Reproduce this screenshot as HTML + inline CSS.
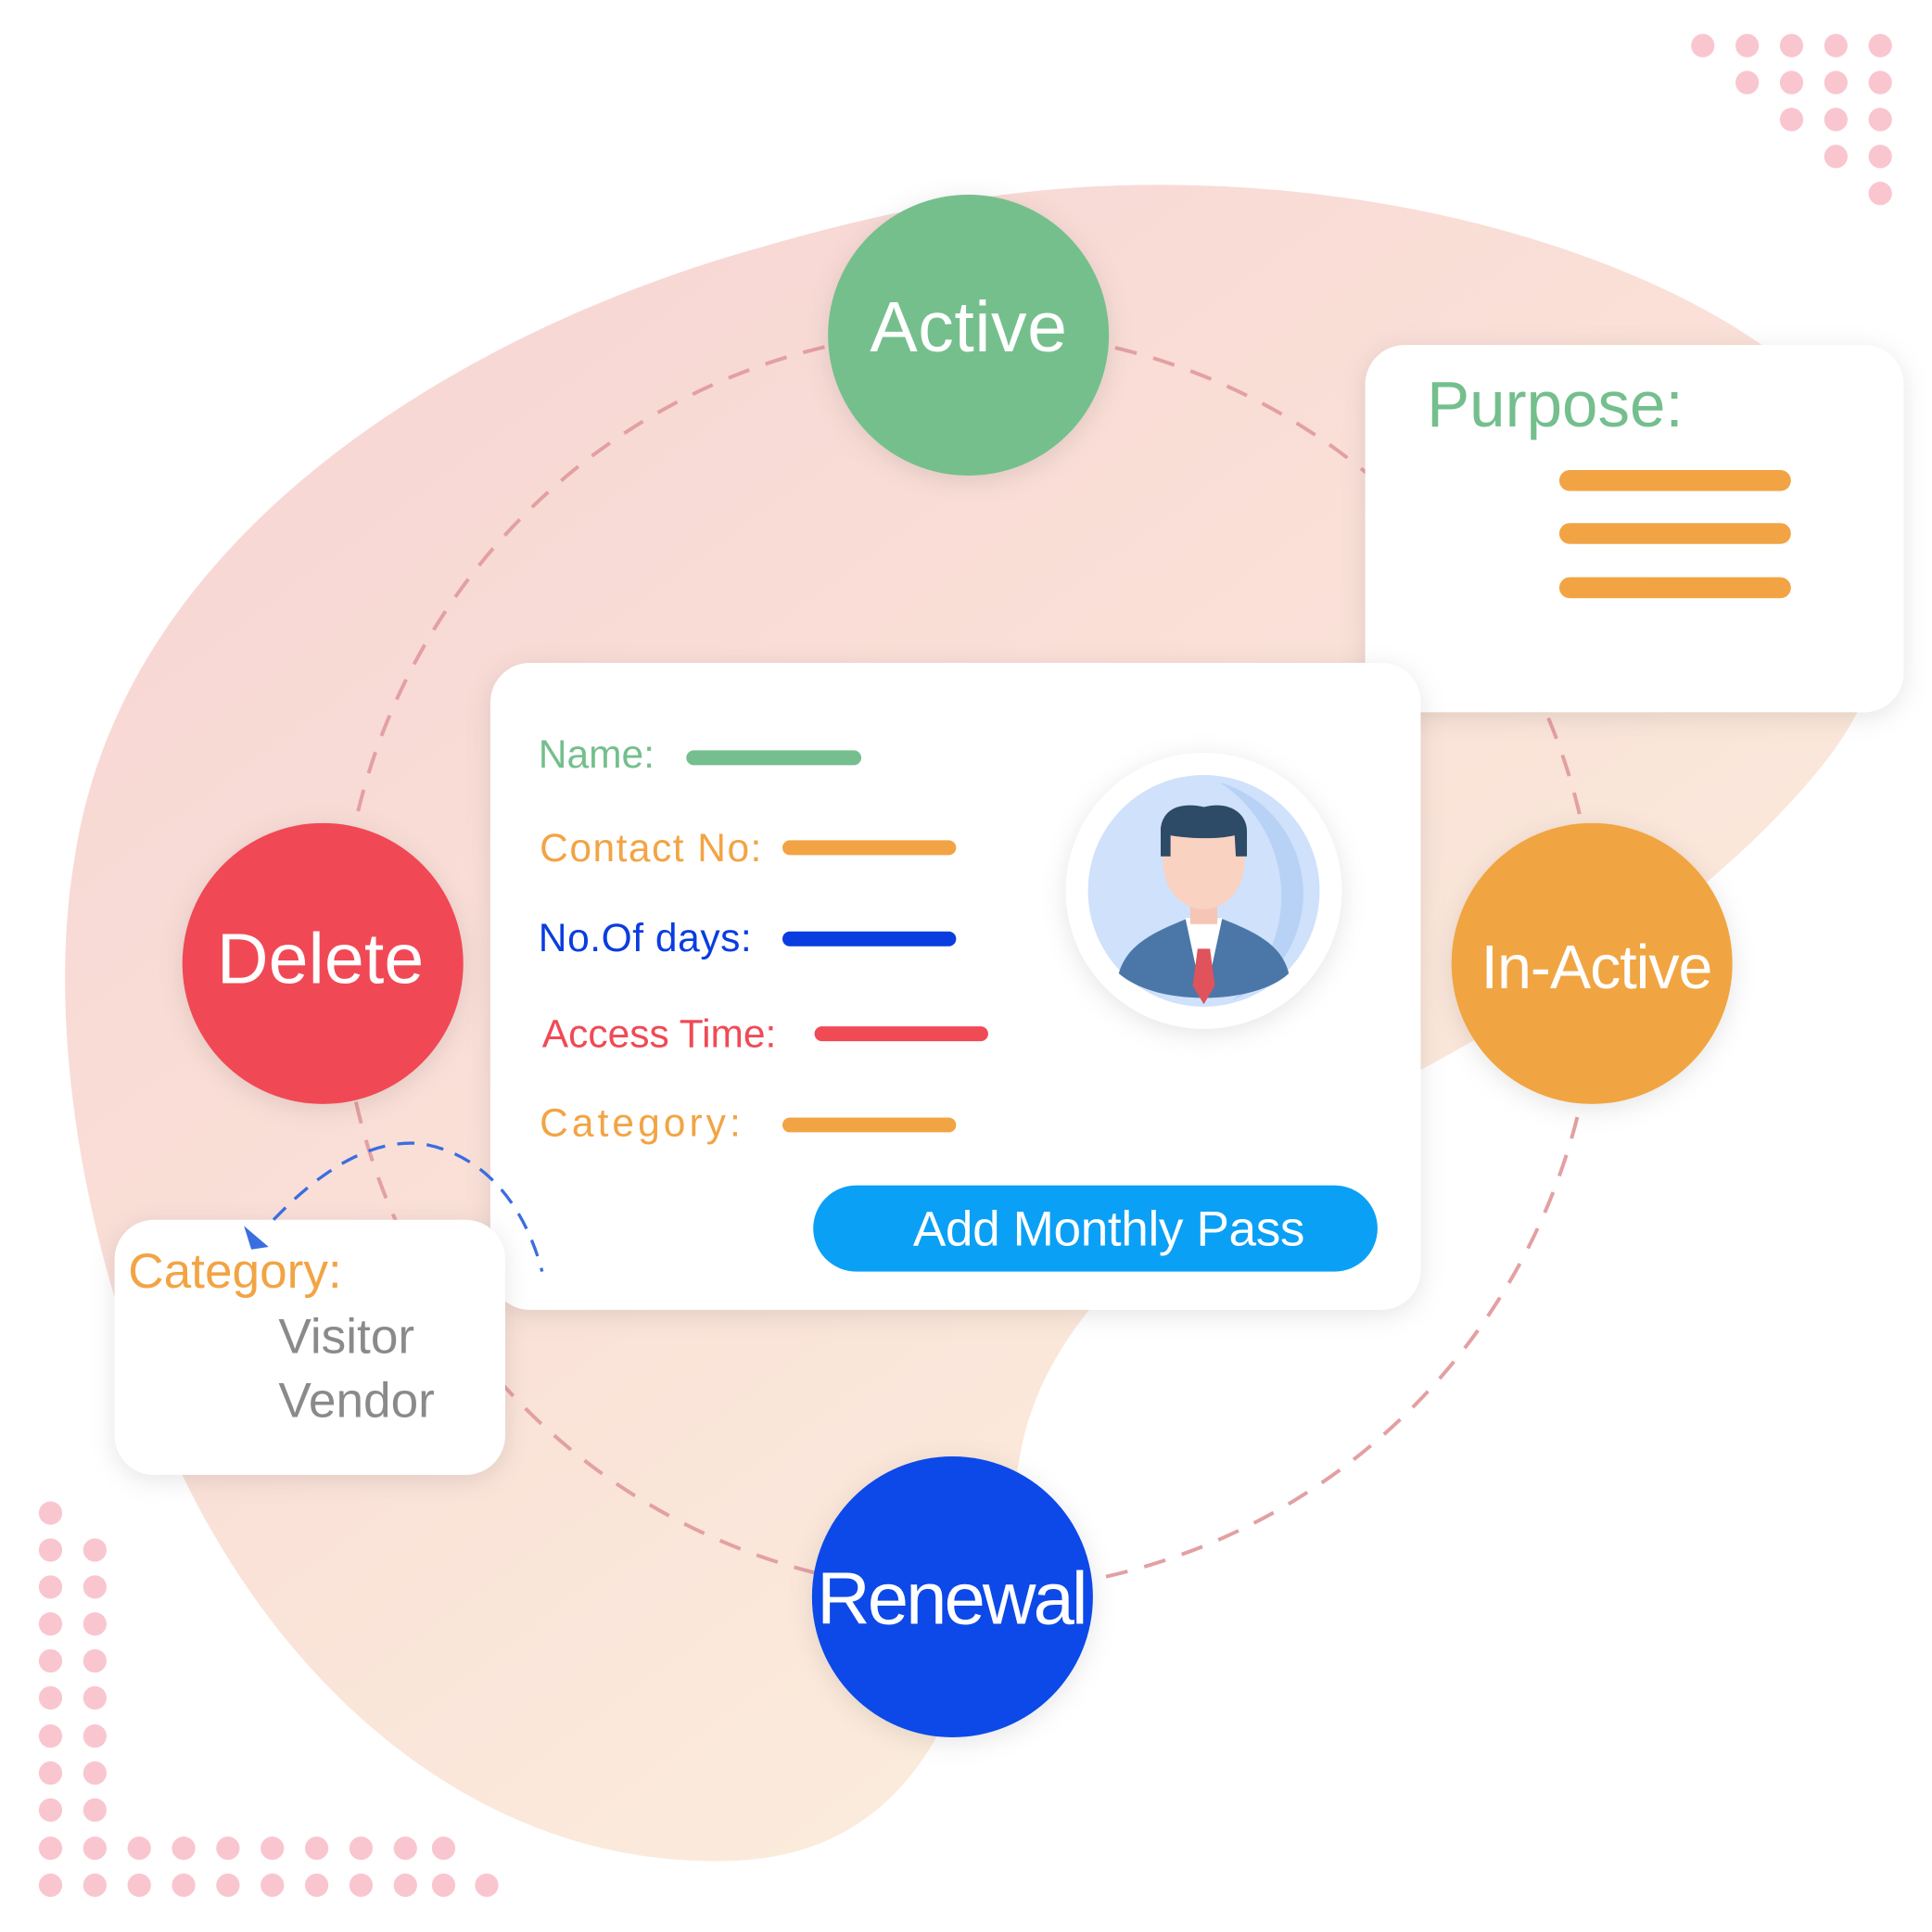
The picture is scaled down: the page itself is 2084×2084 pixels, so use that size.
<!DOCTYPE html>
<html><head><meta charset="utf-8"><style>
html,body{margin:0;padding:0;background:#fff;}
svg{display:block;}
text{font-family:"Liberation Sans",sans-serif;}
</style></head><body>
<svg width="2084" height="2084" viewBox="0 0 1568 1568" xmlns="http://www.w3.org/2000/svg">
<defs>
<linearGradient id="bg" x1="0" y1="0" x2="0.8" y2="1">
<stop offset="0" stop-color="#f7d3d3"/><stop offset="0.55" stop-color="#fae2d8"/><stop offset="1" stop-color="#fcf2de"/>
</linearGradient>
<filter id="sh" x="-20%" y="-20%" width="140%" height="140%"><feDropShadow dx="0" dy="4" stdDeviation="10" flood-color="#000" flood-opacity="0.10"/></filter>
</defs>
<path d="M940,150 C1150,150 1330,210 1430,280 C1560,370 1560,520 1480,620 C1400,720 1280,800 1150,870 C1000,950 860,1040 830,1170 C800,1330 770,1500 600,1510 C400,1520 230,1380 140,1180 C60,1000 40,820 60,700 C100,420 400,260 620,200 C740,165 840,150 940,150 Z" fill="url(#bg)"/>
<g fill="#f9c6cf">
<circle cx="1382" cy="37" r="9.5"/><circle cx="1418" cy="37" r="9.5"/><circle cx="1454" cy="37" r="9.5"/><circle cx="1490" cy="37" r="9.5"/><circle cx="1526" cy="37" r="9.5"/>
<circle cx="1418" cy="67" r="9.5"/><circle cx="1454" cy="67" r="9.5"/><circle cx="1490" cy="67" r="9.5"/><circle cx="1526" cy="67" r="9.5"/>
<circle cx="1454" cy="97" r="9.5"/><circle cx="1490" cy="97" r="9.5"/><circle cx="1526" cy="97" r="9.5"/>
<circle cx="1490" cy="127" r="9.5"/><circle cx="1526" cy="127" r="9.5"/>
<circle cx="1526" cy="157" r="9.5"/>
<circle cx="41" cy="1228" r="9.5"/>
<circle cx="41" cy="1258" r="9.5"/><circle cx="77" cy="1258" r="9.5"/>
<circle cx="41" cy="1288" r="9.5"/><circle cx="77" cy="1288" r="9.5"/>
<circle cx="41" cy="1318" r="9.5"/><circle cx="77" cy="1318" r="9.5"/>
<circle cx="41" cy="1348" r="9.5"/><circle cx="77" cy="1348" r="9.5"/>
<circle cx="41" cy="1378" r="9.5"/><circle cx="77" cy="1378" r="9.5"/>
<circle cx="41" cy="1409" r="9.5"/><circle cx="77" cy="1409" r="9.5"/>
<circle cx="41" cy="1439" r="9.5"/><circle cx="77" cy="1439" r="9.5"/>
<circle cx="41" cy="1469" r="9.5"/><circle cx="77" cy="1469" r="9.5"/>
<circle cx="41" cy="1500" r="9.5"/><circle cx="77" cy="1500" r="9.5"/><circle cx="113" cy="1500" r="9.5"/><circle cx="149" cy="1500" r="9.5"/><circle cx="185" cy="1500" r="9.5"/><circle cx="221" cy="1500" r="9.5"/><circle cx="257" cy="1500" r="9.5"/><circle cx="293" cy="1500" r="9.5"/><circle cx="329" cy="1500" r="9.5"/><circle cx="360" cy="1500" r="9.5"/>
<circle cx="41" cy="1530" r="9.5"/><circle cx="77" cy="1530" r="9.5"/><circle cx="113" cy="1530" r="9.5"/><circle cx="149" cy="1530" r="9.5"/><circle cx="185" cy="1530" r="9.5"/><circle cx="221" cy="1530" r="9.5"/><circle cx="257" cy="1530" r="9.5"/><circle cx="293" cy="1530" r="9.5"/><circle cx="329" cy="1530" r="9.5"/><circle cx="360" cy="1530" r="9.5"/><circle cx="395" cy="1530" r="9.5"/>
</g>
<ellipse cx="786" cy="780" rx="510" ry="512" fill="none" stroke="#e3a0a3" stroke-width="3" stroke-dasharray="18 14"/>
<rect x="1108" y="280" width="437" height="298" rx="32" fill="#fff" filter="url(#sh)"/>
<text x="1158" y="346" font-size="52" fill="#74bf8d">Purpose:</text>
<g stroke="#f2a444" stroke-width="17" stroke-linecap="round">
<line x1="1274" y1="390" x2="1445" y2="390"/><line x1="1274" y1="433" x2="1445" y2="433"/><line x1="1274" y1="477" x2="1445" y2="477"/>
</g>
<rect x="398" y="538" width="755" height="525" rx="32" fill="#fff" filter="url(#sh)"/>
<rect x="93" y="990" width="317" height="207" rx="32" fill="#fff" filter="url(#sh)"/>
<path d="M222,990 C260,950 300,925 340,928 C390,935 425,975 440,1032" fill="none" stroke="#3a6de0" stroke-width="2.5" stroke-dasharray="14 10"/>
<path d="M198,995 L218,1012 L204,1014 Z" fill="#3a6de0"/>
<text x="104" y="1045" font-size="40" fill="#f2a444">Category:</text>
<text x="226" y="1098" font-size="40" fill="#8a8a8a">Visitor</text>
<text x="226" y="1150" font-size="40" fill="#8a8a8a">Vendor</text>
<g font-size="32">
<text x="437" y="623" fill="#74bf8d">Name:</text>
<text x="438" y="699" fill="#f2a444" textLength="180">Contact No:</text>
<text x="437" y="772" fill="#0a3de0" textLength="173">No.Of days:</text>
<text x="440" y="850" fill="#f04a55" textLength="190">Access Time:</text>
<text x="438" y="922" fill="#f2a444" textLength="163">Category:</text>
</g>
<g stroke-width="12" stroke-linecap="round">
<line x1="563" y1="615" x2="693" y2="615" stroke="#74bf8d"/>
<line x1="641" y1="688" x2="770" y2="688" stroke="#f2a444"/>
<line x1="641" y1="762" x2="770" y2="762" stroke="#0a3de0"/>
<line x1="667" y1="839" x2="796" y2="839" stroke="#f04a55"/>
<line x1="641" y1="913" x2="770" y2="913" stroke="#f2a444"/>
</g>
<rect x="660" y="962" width="458" height="70" rx="35" fill="#0aa0f5"/>
<text x="900" y="1011" font-size="40" fill="#fff" text-anchor="middle" textLength="318">Add Monthly Pass</text>
<circle cx="977" cy="723" r="112" fill="#fff" filter="url(#sh)"/>
<circle cx="977" cy="723" r="94" fill="#cfe1fb"/>
<path d="M990,635 A94,94 0 0 1 1000,812 A110,110 0 0 0 990,635 Z" fill="#b8d2f6"/>
<path d="M908,790 C915,765 940,755 965,745 L990,745 C1015,755 1040,765 1046,790 C1020,815 940,818 908,790 Z" fill="#4a77a8"/>
<path d="M962,745 L977,815 L992,745 Z" fill="#fff"/>
<path d="M972,770 L982,770 L986,800 L977,815 L968,800 Z" fill="#e0525c"/>
<rect x="966" y="725" width="22" height="25" fill="#f5c6b5"/>
<ellipse cx="977" cy="700" rx="33" ry="38" fill="#fad2c2"/>
<path d="M942,695 L942,672 C945,652 965,652 977,655 C995,650 1012,658 1012,675 L1012,695 L1003,695 L1002,678 C985,682 960,680 950,678 L950,695 Z" fill="#2d4a66"/>
<g filter="url(#sh)">
<circle cx="786" cy="272" r="114" fill="#74bf8d"/>
<circle cx="262" cy="782" r="114" fill="#f04a55"/>
<circle cx="1292" cy="782" r="114" fill="#f0a542"/>
<circle cx="773" cy="1296" r="114" fill="#0a48e8"/>
</g>
<g fill="#fff" text-anchor="middle">
<text x="786" y="285" font-size="58" textLength="160">Active</text>
<text x="260" y="798" font-size="58" textLength="168">Delete</text>
<text x="1296" y="802" font-size="50" textLength="188">In-Active</text>
<text x="773" y="1318" font-size="60" textLength="220">Renewal</text>
</g>
</svg>
</body></html>
